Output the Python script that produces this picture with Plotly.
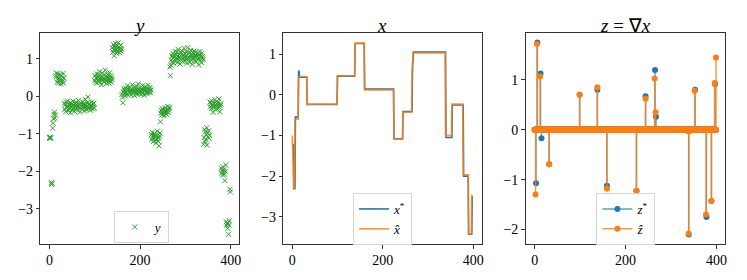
import numpy as np
import plotly.graph_objects as go

N = 400
FONT = "Liberation Serif"
BLUE = "#1f77b4"
ORANGE = "#ff7f0e"
GREEN = "#2ca02c"

# ---------------- data ----------------
# noisy observations y (per segment, concatenated)
y_seg = [
    [-1.10, -1.12, -1.09, -1.11],
    [-2.30, -2.35, -2.32],
    [-0.85, -0.72, -0.60, -0.48, -0.42, -0.58, -0.50],
    [0.55, 0.62],
    [0.52, 0.38, 0.60, 0.45, 0.35, 0.50, 0.42, 0.58, 0.40, 0.33, 0.47, 0.55, 0.39, 0.44, 0.61, 0.36, 0.49],
    [-0.18, -0.35, -0.22, -0.41, -0.15, -0.28, -0.30, -0.12, -0.26, -0.38,
     -0.20, -0.33, -0.24, -0.44, -0.17, -0.29, -0.21, -0.36, -0.27, -0.13,
     -0.31, -0.23, -0.40, -0.19, -0.25, -0.34, -0.16, -0.28, -0.22, -0.37,
     -0.26, -0.11, -0.30, -0.21, -0.42, -0.24, -0.18, -0.32, -0.27, -0.14,
     -0.35, -0.23, -0.29, -0.20, -0.39, -0.25, -0.08, -0.31, -0.22, -0.36,
     -0.17, -0.27, -0.02, -0.33, -0.21, -0.28, -0.19, -0.37, -0.24, -0.30,
     -0.15, -0.26, -0.34, -0.21, -0.29, -0.18, -0.32],
    [0.42, 0.55, 0.38, 0.49, 0.60, 0.35, 0.47, 0.52, 0.40, 0.58,
     0.44, 0.66, 0.37, 0.50, 0.45, 0.31, 0.54, 0.62, 0.43, 0.48,
     0.39, 0.57, 0.46, 0.70, 0.41, 0.53, 0.34, 0.49, 0.59, 0.44,
     0.51, 0.36, 0.47, 0.63, 0.42, 0.55, 0.38, 0.50, 0.45],
    [1.30, 1.18, 1.38, 1.25, 1.08, 1.33, 1.22, 1.41, 1.27, 1.15,
     1.35, 1.20, 1.29, 1.43, 1.24, 1.32, 1.17, 1.28, 1.36, 1.21, 1.26],
    [0.05, -0.02, -0.17, 0.12, 0.20, 0.08, 0.15, 0.01, 0.22, 0.10,
     0.18, 0.06, 0.28, 0.13, 0.03, 0.19, 0.11, 0.25, 0.09, 0.16,
     0.04, 0.21, 0.14, 0.31, 0.07, 0.17, 0.12, 0.24, 0.02, 0.15,
     0.20, 0.10, 0.27, 0.13, 0.06, 0.18, 0.33, 0.11, 0.16, 0.08,
     0.23, 0.14, 0.05, 0.19, 0.12, 0.29, 0.09, 0.17, 0.21, 0.03,
     0.15, 0.26, 0.10, 0.18, 0.13, 0.07, 0.22, 0.16, 0.30, 0.11,
     0.19, 0.14, 0.24, 0.09, 0.17],
    [-1.02, -1.15, -0.96, -1.10, -1.21, -1.05, -1.12, -0.99, -1.18, -1.07,
     -1.25, -1.03, -1.14, -0.93, -1.09, -1.20, -1.11, -1.32, -1.06, -0.98],
    [-0.68, -0.45, -0.38, -0.50, -0.33, -0.42, -0.47, -0.36, -0.52, -0.40,
     -0.30, -0.44, -0.39, -0.48, -0.35, -0.41, -0.27, -0.43, -0.37, -0.32, -0.29],
    [0.78, 0.55],
    [0.83, 0.97, 1.08, 0.92, 1.15, 1.02, 0.88, 1.10, 1.05, 1.20,
     0.95, 1.12, 1.00, 1.18, 0.90, 1.07, 1.25, 0.98, 1.13, 1.03,
     0.86, 1.09, 1.16, 0.96, 1.22, 1.04, 0.93, 1.11, 1.01, 1.28,
     1.06, 0.94, 1.14, 1.00, 1.19, 0.89, 1.08, 1.30, 0.99, 1.12,
     1.05, 0.91, 1.17, 1.02, 1.23, 0.97, 1.10, 0.85, 1.06, 1.15,
     1.01, 1.21, 0.95, 1.09, 1.04, 1.18, 0.92, 1.13, 1.07, 1.00,
     1.16, 0.84, 1.11, 1.03, 1.20, 0.96, 1.08, 1.14, 0.90, 1.06,
     1.02, 0.98],
    [-1.28, -1.10, -0.88, -1.20, -0.95, -1.15, -1.02, -0.84, -1.30, -0.98, -1.08, -0.92, -1.12, -1.04],
    [-0.15, -0.28, -0.20, -0.33, -0.12, -0.25, -0.22, -0.43, -0.18, -0.30,
     -0.26, -0.09, -0.24, -0.35, -0.19, -0.27, -0.21, -0.31, -0.16, -0.23,
     -0.07, -0.29, -0.41, -0.25, -0.20],
    [-1.92, -2.05, -1.98, -2.10, -1.88, -2.02, -1.95, -2.08, -2.25, -2.00, -1.83],
    [-3.35, -3.45, -3.40, -3.52, -3.38, -3.68, -3.44, -3.32],
    [-2.48, -2.55],
]

# true signal x* : segment start indices and levels
xstar_starts = [0, 4, 7, 14, 16, 33, 100, 139, 160, 225, 245, 266, 268, 340, 354, 379, 390, 398]
xstar_levels = [-1.23, -2.30, -0.55, 0.58, 0.43, -0.24, 0.46, 1.26, 0.14, -1.08,
                -0.41, 0.79, 1.05, -1.05, -0.25, -2.00, -3.43, -2.51]

# estimate x_hat : segment start indices and levels
xhat_starts = [0, 1, 3, 6, 14, 33, 100, 139, 160, 225, 245, 265, 267, 339, 353, 378, 390, 397]
xhat_levels = [-1.00, -1.60, -2.32, -0.60, 0.45, -0.23, 0.47, 1.27, 0.12, -1.09,
               -0.43, 0.60, 1.03, -1.00, -0.23, -1.97, -3.42, -2.48]

# gradients: nonzero positions and values
zstar_idx = [3, 6, 13, 15, 32, 99, 138, 159, 224, 244, 265, 267, 339, 353, 378, 389, 397]
zstar_val = [-1.07, 1.75, 1.13, -0.17, -0.69, 0.70, 0.80, -1.12, -1.22, 0.67,
             1.20, 0.26, -2.10, 0.80, -1.75, -1.43, 0.92]
zhat_idx = [2, 5, 12, 32, 99, 138, 159, 224, 244, 264, 266, 337, 338, 339, 340, 341,
            352, 377, 389, 396, 399]
zhat_val = [-1.30, 1.72, 1.07, -0.69, 0.70, 0.85, -1.18, -1.22, 0.62, 1.03, 0.35,
            -0.02, -0.03, -2.08, -0.03, -0.02, 0.78, -1.70, -1.43, 0.94, 1.45]

x_ticks = [0, 200, 400]

# ---------------- build series ----------------
y_obs = np.concatenate([np.array(s) for s in y_seg])
t_y = np.arange(len(y_obs))


def expand(starts, levels, n):
    lens = np.diff(list(starts) + [n])
    return np.repeat(levels, lens)


x_star = expand(xstar_starts, xstar_levels, N)
x_hat = expand(xhat_starts, xhat_levels, N)
t = np.arange(N)

z_star = np.zeros(N)
z_star[zstar_idx] = zstar_val
z_hat = np.zeros(N)
z_hat[zhat_idx] = zhat_val


def stems(z):
    xs, ys = [], []
    for i, v in enumerate(z):
        xs += [i, i, None]
        ys += [0.0, v, None]
    return xs, ys


fig = go.Figure()

fig.add_trace(go.Scatter(
    x=t_y, y=y_obs, mode="markers", name="<i>y</i>", showlegend=True,
    marker=dict(symbol="x-thin", size=5, color=GREEN, line=dict(width=1, color=GREEN)),
    xaxis="x", yaxis="y", legend="legend"))

fig.add_trace(go.Scatter(
    x=t, y=x_star, mode="lines", name="<i>x</i><sup>*</sup>",
    line=dict(color=BLUE, width=1.6), xaxis="x2", yaxis="y2", legend="legend2"))
fig.add_trace(go.Scatter(
    x=t, y=x_hat, mode="lines", name="<i>x\u0302</i>",
    line=dict(color="rgba(255,127,14,0.85)", width=1.6), xaxis="x2", yaxis="y2", legend="legend2"))

sx, sy = stems(z_star)
fig.add_trace(go.Scatter(
    x=sx, y=sy, mode="lines+markers", name="<i>z</i><sup>*</sup>",
    line=dict(color="rgba(31,119,180,0.7)", width=1.5),
    marker=dict(size=6, color=BLUE, line=dict(width=0)),
    xaxis="x3", yaxis="y3", legend="legend3"))
hx, hy = stems(z_hat)
fig.add_trace(go.Scatter(
    x=hx, y=hy, mode="lines+markers", name="<i>z\u0302</i>",
    line=dict(color="rgba(255,127,14,0.8)", width=1.5),
    marker=dict(size=6, color=ORANGE, line=dict(width=0)),
    xaxis="x3", yaxis="y3", legend="legend3"))

W, H = 747, 280
doms = [(40.5, 240), (284, 483), (527, 727)]
ydom = [1 - 244 / H, 1 - 33 / H]
yranges = [[-3.94, 1.69], [-3.67, 1.52], [-2.29, 1.94]]

axis_common = dict(showline=True, mirror=True, linecolor="#333", linewidth=1,
                   ticks="outside", ticklen=3.5, tickwidth=0.8, tickcolor="#333",
                   showgrid=False, zeroline=False,
                   tickfont=dict(family=FONT, size=14, color="black"))

layout = dict(width=W, height=H, margin=dict(l=0, r=0, t=0, b=0),
              paper_bgcolor="white", plot_bgcolor="white", showlegend=True,
              font=dict(family=FONT, size=13, color="black"))
names = ["", "2", "3"]
for k, (a, b) in enumerate(doms):
    n = names[k]
    layout["xaxis" + n] = dict(domain=[a / W, b / W], range=[-19.95, 418.95],
                               tickvals=x_ticks, anchor="y" + n, **axis_common)
    layout["yaxis" + n] = dict(domain=ydom, range=yranges[k], dtick=1,
                               anchor="x" + n, **axis_common)

leg_common = dict(bgcolor="rgba(255,255,255,0.8)", bordercolor="#d5d5d5", borderwidth=1,
                  font=dict(family=FONT, size=13), xanchor="left", yanchor="top",
                  tracegroupgap=0)
layout["legend"] = dict(x=114 / W, y=1 - 211 / H, **leg_common)
layout["legend2"] = dict(x=354 / W, y=1 - 193 / H, **leg_common)
layout["legend3"] = dict(x=598 / W, y=1 - 193 / H, **leg_common)

titles = ["<i>y</i>", "<i>x</i>", "<i>z</i> = \u2207<i>x</i>"]
layout["annotations"] = [
    dict(text=titles[k], x=(a + b) / 2 / W, y=1 - 25 / H, xref="paper", yref="paper",
         xanchor="center", yanchor="middle", showarrow=False,
         font=dict(family=FONT, size=19, color="black"))
    for k, (a, b) in enumerate(doms)]

fig.update_layout(**layout)
fig.write_html("out.html", config={"displayModeBar": False},
               post_script="document.body.style.margin='0';")
